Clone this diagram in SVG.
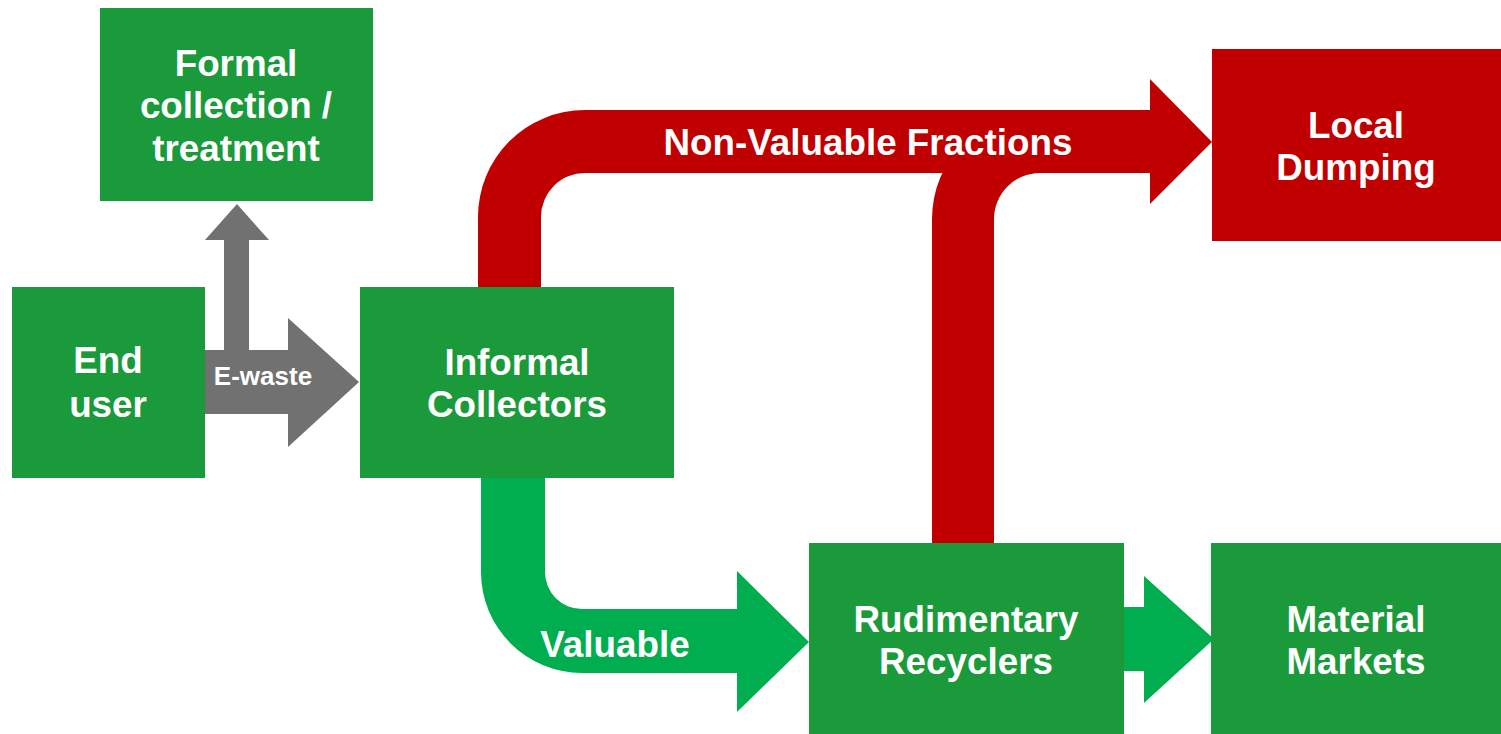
<svg xmlns="http://www.w3.org/2000/svg" width="1501" height="734" viewBox="0 0 1501 734">
<style>
.box{fill:#1A9A3A}
.red{fill:#C00000}
.t{font-family:"Liberation Sans",Arial,sans-serif;font-weight:bold;fill:#FFFFFF;text-anchor:middle;font-size:36.8px}
.s{font-size:26px}
</style>
<rect width="1501" height="734" fill="#FFFFFF"/>
<g id="connectors">
<path id="gray-arrow" fill="#717171" d="M205,414 L205,350 L224,350 L224,240 L205,240 L237,204 L269,240 L249,240 L249,350 L288,350 L288,318 L359,382 L288,447 L288,414 Z"/>
<text class="t s" x="263" y="385">E-waste</text>
<path id="red-arrow" fill="#C00000" d="M478,287 L478,217 A107,107 0 0 1 585,110 L1150,110 L1150,79 L1212,142 L1150,204 L1150,173 L585,173 A44,44 0 0 0 541,217 L541,287 Z"/>
<path id="red-branch" fill="#C00000" d="M932,543 L932,219 A108,108 0 0 1 1040,111 L1070,111 L1070,173 L1040,173 A46,46 0 0 0 994,219 L994,543 Z"/>
<text class="t" x="868" y="155">Non-Valuable Fractions</text>
<path id="green-arrow" fill="#00AE50" d="M481,470 L481,572 A101,101 0 0 0 582,673 L737,673 L737,712 L809,642 L737,571 L737,609 L582,609 A37,37 0 0 1 545,572 L545,470 Z"/>
<text class="t" x="615" y="657">Valuable</text>
<path id="green-small" fill="#00AE50" d="M1124,607 L1144,607 L1144,576 L1214,639 L1144,703 L1144,671 L1124,671 Z"/>
</g>
<g id="formal">
<rect class="box" x="100" y="8" width="273" height="193"/>
<text class="t" x="236" y="76">Formal</text>
<text class="t" x="236" y="118">collection /</text>
<text class="t" x="236" y="161">treatment</text>
</g>
<g id="enduser">
<rect class="box" x="12" y="287" width="193" height="191"/>
<text class="t" x="108" y="373">End</text>
<text class="t" x="108" y="417">user</text>
</g>
<g id="informal">
<rect class="box" x="360" y="287" width="314" height="191"/>
<text class="t" x="517" y="375">Informal</text>
<text class="t" x="517" y="417">Collectors</text>
</g>
<g id="dumping">
<rect class="red" x="1212" y="49" width="289" height="192"/>
<text class="t" x="1356" y="138">Local</text>
<text class="t" x="1356" y="180">Dumping</text>
</g>
<g id="rudimentary">
<rect class="box" x="809" y="543" width="315" height="191"/>
<text class="t" x="966" y="632">Rudimentary</text>
<text class="t" x="966" y="674">Recyclers</text>
</g>
<g id="markets">
<rect class="box" x="1211" y="543" width="290" height="191"/>
<text class="t" x="1356" y="632">Material</text>
<text class="t" x="1356" y="674">Markets</text>
</g>
</svg>
